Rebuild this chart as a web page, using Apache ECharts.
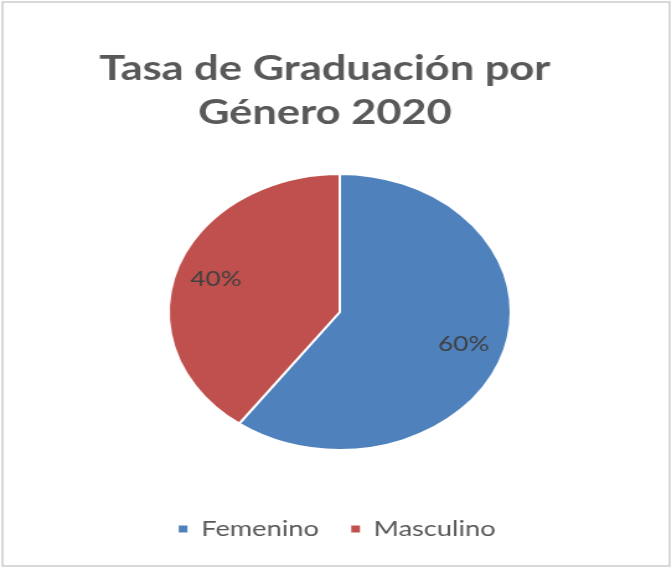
<!DOCTYPE html>
<html>
<head>
<meta charset="utf-8">
<script src="https://cdn.jsdelivr.net/npm/echarts@6/dist/echarts.min.js"></script>
<style>
  html, body { margin: 0; padding: 0; background: #fff; overflow: hidden; }
  /* the original picture is stretched sideways, so the chart is drawn narrow and widened */
  #chart { width: 542px; height: 568px; transform: scaleX(1.24); transform-origin: 0 0; }
</style>
</head>
<body>
<div id="chart"></div>
<script>
  // datos
  const titleText = 'Tasa de Graduación por\nGénero 2020'
  const categories = ['Femenino', 'Masculino']
  const values = [60, 40]
  const colors = ['#4F81BD', '#C0504D']

  const pieData = categories.map((name, i) => ({
    name: name,
    value: values[i],
    itemStyle: { color: colors[i] }
  }))

  const myChart = echarts.init(document.getElementById('chart'), null, { renderer: 'canvas' })

  const option = {
    backgroundColor: '#fff',
    animation: false,
    title: {
      text: titleText,
      left: 262,
      textAlign: 'center',
      top: 47,
      padding: 0,
      textStyle: {
        fontFamily: 'Lato',
        fontWeight: 'bold',
        fontSize: 35,
        lineHeight: 44,
        color: '#595959'
      }
    },
    legend: {
      data: categories,
      bottom: 28,
      left: 'center',
      padding: [0, 0, 0, 34],
      icon: 'rect',
      itemWidth: 9,
      itemHeight: 9,
      itemGap: 24,
      textStyle: {
        fontFamily: 'Lato',
        fontSize: 22,
        color: '#595959',
        padding: [0, 0, 0, 5]
      }
    },
    graphic: [{
      type: 'rect',
      shape: { x: 2, y: 2, width: 538, height: 564 },
      style: { fill: 'none', stroke: '#d9d9d9', lineWidth: 2 },
      silent: true
    }],
    series: [
      {
        type: 'pie',
        center: [274, 312],
        radius: [0, 138],
        startAngle: 90,
        clockwise: true,
        silent: true,
        label: { show: false },
        labelLine: { show: false },
        itemStyle: { borderColor: '#fff', borderWidth: 2 },
        data: pieData
      },
      {
        // capa transparente solo para colocar las etiquetas mas afuera
        type: 'pie',
        center: [274, 312],
        radius: [0, 204],
        startAngle: 90,
        clockwise: true,
        silent: true,
        itemStyle: { color: 'rgba(0,0,0,0)', borderWidth: 0 },
        label: {
          show: true,
          position: 'inside',
          formatter: '{d}%',
          fontFamily: 'Lato',
          fontSize: 21,
          color: '#404040'
        },
        labelLine: { show: false },
        data: categories.map((name, i) => ({ name: name, value: values[i] }))
      }
    ]
  }

  myChart.setOption(option)
</script>
</body>
</html>
